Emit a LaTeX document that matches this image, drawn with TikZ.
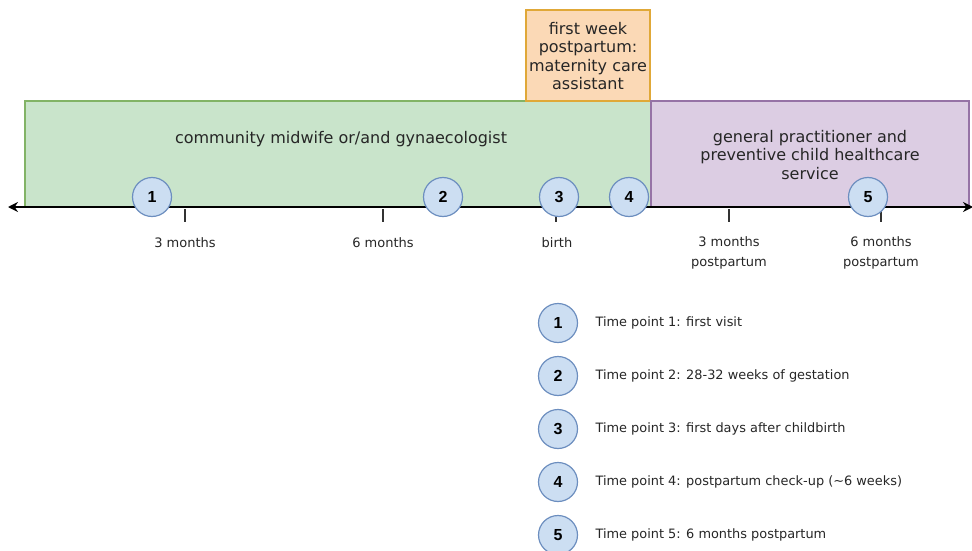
\documentclass[tikz,border=0pt]{standalone}
\usepackage{fontspec}
\setmainfont{DejaVu Sans}
\newfontfamily\numfont{Liberation Sans}
\usetikzlibrary{arrows.meta}
\definecolor{greenfill}{HTML}{C9E4CB}
\definecolor{greenline}{HTML}{82B366}
\definecolor{orangefill}{HTML}{FBD9B6}
\definecolor{orangeline}{HTML}{E0A838}
\definecolor{purplefill}{HTML}{DCCDE3}
\definecolor{purpleline}{HTML}{9673A6}
\definecolor{bluefill}{HTML}{CCDEF2}
\definecolor{blueline}{HTML}{6C8EBF}
\tikzset{
  band/.style={draw=#1line, fill=#1fill, line width=1.2pt},
  bandtext/.style={align=center, font=\fontsize{16}{18.5}\selectfont, text=black!85},
  tp/.style={circle, draw=blueline, fill=bluefill, line width=1.2pt, minimum size=39pt,
    inner sep=0pt, font=\numfont\bfseries\fontsize{16}{16}\selectfont},
  tickmark/.style={draw=black!80, line width=1.2pt},
  ticklabel/.style={align=center, font=\fontsize{13}{20}\selectfont, text=black!85},
  legendtext/.style={anchor=west, font=\fontsize{12.9}{14}\selectfont, text=black!85},
}
\begin{document}
\begin{tikzpicture}[x=1pt, y=-1pt]
\useasboundingbox (0,0) rectangle (972,551);
% care periods
\draw[band=green] (25,101) rectangle (651,207);
\draw[band=orange] (526,10) rectangle (650,101);
\draw[band=purple] (651,101) rectangle (969,207);
\node[bandtext] (gtext) at (341,139) {community midwife or/and gynaecologist};
\node[bandtext] (otext) at (588,56) {first week\\postpartum:\\maternity care\\assistant};
\node[bandtext] (ptext) at (810,155) {general practitioner and\\preventive child healthcare\\service};
% time axis
\coordinate (axl) at (8,207);
\coordinate (axr) at (973,207);
\draw[line width=2pt, {Stealth[length=10pt,width=10pt]}-{Stealth[length=10pt,width=10pt]}] (axl) -- (axr);
% ticks
\foreach \n/\x in {t1/185, t2/383, t3/556, t4/729, t5/881} {
  \coordinate (\n a) at (\x,209);
  \coordinate (\n b) at (\x,222);
  \draw[tickmark] (\n a) -- (\n b);
}
\node[ticklabel] (l1) at (185,243) {3 months};
\node[ticklabel] (l2) at (383,243) {6 months};
\node[ticklabel] (l3) at (557,243) {birth};
\node[ticklabel] (l4) at (729,253) {3 months\\postpartum};
\node[ticklabel] (l5) at (881,253) {6 months\\postpartum};
% time points on the axis
\node[tp] (c1) at (152,197) {1};
\node[tp] (c2) at (443,197) {2};
\node[tp] (c3) at (559,197) {3};
\node[tp] (c4) at (629,197) {4};
\node[tp] (c5) at (868,197) {5};
% legend
\node[tp] (k1) at (558,323) {1};
\node[tp] (k2) at (558,376) {2};
\node[tp] (k3) at (558,429) {3};
\node[tp] (k4) at (558,482) {4};
\node[tp] (k5) at (558,535) {5};
\node[legendtext] (d1) at (592,323) {Time point 1: first visit};
\node[legendtext] (d2) at (592,376) {Time point 2: 28-32 weeks of gestation};
\node[legendtext] (d3) at (592,429) {Time point 3: first days after childbirth};
\node[legendtext] (d4) at (592,482) {Time point 4: postpartum check-up (\textasciitilde 6 weeks)};
\node[legendtext] (d5) at (592,535) {Time point 5: 6 months postpartum};
\end{tikzpicture}
\end{document}
